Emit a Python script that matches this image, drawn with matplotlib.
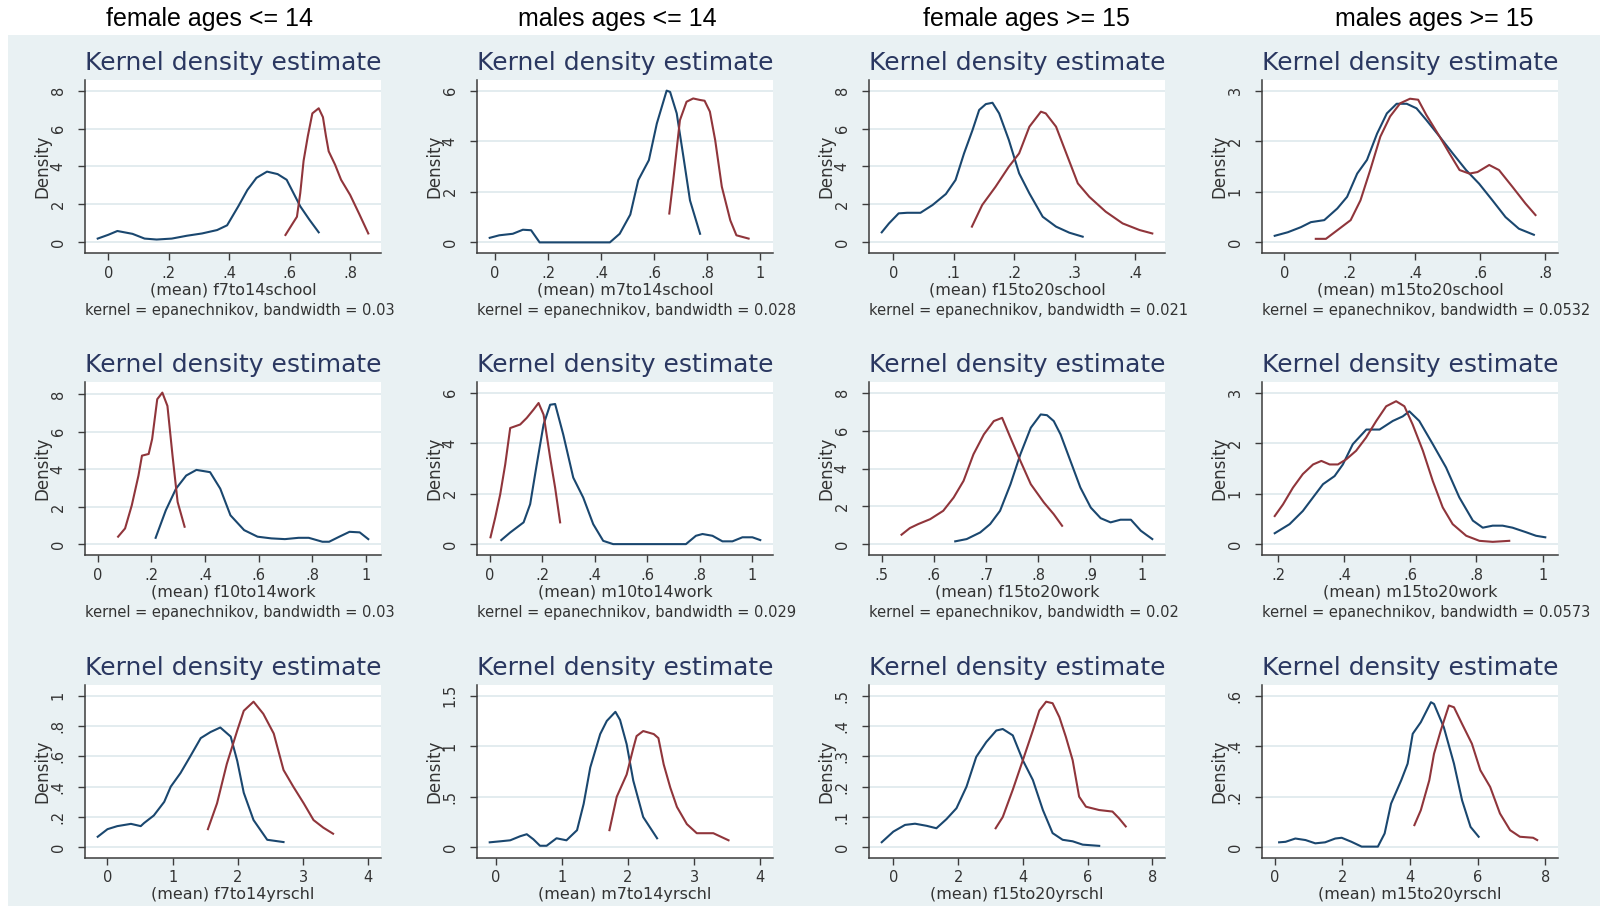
import matplotlib.pyplot as plt
from matplotlib.transforms import Bbox, TransformedBbox

# ---- data (navy = first group, maroon = second) ----
col_titles = ["female ages <= 14", "males ages <= 14", "female ages >= 15", "males ages >= 15"]

# row 1: school
f7to14school_navy_x = [-0.035, 0.0, 0.03, 0.08, 0.12, 0.16, 0.21, 0.26, 0.31, 0.36, 0.393, 0.43, 0.46, 0.49, 0.525, 0.56, 0.59, 0.635, 0.665, 0.696]
f7to14school_navy_y = [0.2, 0.4, 0.6, 0.45, 0.2, 0.15, 0.2, 0.35, 0.47, 0.65, 0.9, 1.9, 2.76, 3.4, 3.73, 3.6, 3.3, 1.9, 1.2, 0.53]
f7to14school_red_x = [0.586, 0.61, 0.624, 0.635, 0.646, 0.66, 0.675, 0.696, 0.71, 0.72, 0.729, 0.75, 0.77, 0.8, 0.83, 0.86]
f7to14school_red_y = [0.39, 1.0, 1.35, 2.6, 4.3, 5.6, 6.8, 7.07, 6.6, 5.6, 4.8, 4.1, 3.3, 2.5, 1.5, 0.47]

m7to14school_navy_x = [-0.02, 0.016, 0.067, 0.105, 0.136, 0.168, 0.433, 0.47, 0.51, 0.54, 0.58, 0.61, 0.647, 0.66, 0.685, 0.71, 0.735, 0.773]
m7to14school_navy_y = [0.18, 0.28, 0.34, 0.5, 0.48, 0.0, 0.0, 0.34, 1.1, 2.46, 3.25, 4.7, 6.0, 5.95, 5.1, 3.4, 1.66, 0.34]
m7to14school_red_x = [0.657, 0.672, 0.697, 0.722, 0.747, 0.773, 0.79, 0.81, 0.83, 0.855, 0.887, 0.91, 0.956]
m7to14school_red_y = [1.14, 2.46, 4.83, 5.56, 5.69, 5.63, 5.6, 5.17, 4.04, 2.2, 0.87, 0.28, 0.15]

f15to20school_navy_x = [-0.019, -0.007, 0.009, 0.023, 0.045, 0.065, 0.087, 0.103, 0.117, 0.131, 0.142, 0.153, 0.164, 0.175, 0.191, 0.208, 0.225, 0.247, 0.269, 0.291, 0.313]
f15to20school_navy_y = [0.53, 1.0, 1.53, 1.56, 1.56, 1.97, 2.55, 3.29, 4.69, 5.92, 6.98, 7.29, 7.36, 6.8, 5.4, 3.64, 2.58, 1.35, 0.83, 0.51, 0.3]
f15to20school_red_x = [0.13, 0.147, 0.169, 0.191, 0.208, 0.225, 0.244, 0.252, 0.269, 0.288, 0.305, 0.324, 0.351, 0.379, 0.407, 0.428]
f15to20school_red_y = [0.83, 1.97, 2.93, 3.99, 4.69, 6.1, 6.89, 6.8, 6.1, 4.52, 3.11, 2.4, 1.62, 1.0, 0.65, 0.47]

m15to20school_navy_x = [-0.03, 0.01, 0.05, 0.081, 0.122, 0.162, 0.192, 0.223, 0.253, 0.284, 0.314, 0.344, 0.375, 0.405, 0.435, 0.476, 0.516, 0.557, 0.597, 0.638, 0.678, 0.719, 0.765]
m15to20school_navy_y = [0.13, 0.2, 0.3, 0.4, 0.44, 0.67, 0.9, 1.36, 1.63, 2.15, 2.55, 2.74, 2.74, 2.65, 2.42, 2.09, 1.76, 1.43, 1.16, 0.83, 0.5, 0.27, 0.15]
m15to20school_red_x = [0.096, 0.127, 0.162, 0.203, 0.233, 0.263, 0.294, 0.324, 0.355, 0.385, 0.41, 0.435, 0.476, 0.506, 0.537, 0.567, 0.592, 0.628, 0.658, 0.699, 0.739, 0.77]
m15to20school_red_y = [0.07, 0.07, 0.24, 0.44, 0.83, 1.43, 2.09, 2.49, 2.75, 2.84, 2.82, 2.52, 2.09, 1.76, 1.43, 1.36, 1.39, 1.53, 1.43, 1.1, 0.77, 0.54]

# row 2: work
f10to14work_navy_x = [0.216, 0.254, 0.292, 0.33, 0.368, 0.419, 0.457, 0.495, 0.546, 0.596, 0.647, 0.698, 0.749, 0.787, 0.838, 0.863, 0.901, 0.939, 0.977, 1.009]
f10to14work_navy_y = [0.35, 1.82, 2.97, 3.67, 3.97, 3.85, 2.97, 1.55, 0.76, 0.41, 0.32, 0.28, 0.35, 0.35, 0.14, 0.14, 0.41, 0.67, 0.64, 0.28]
f10to14work_red_x = [0.076, 0.102, 0.127, 0.152, 0.165, 0.19, 0.203, 0.222, 0.241, 0.26, 0.279, 0.298, 0.324]
f10to14work_red_y = [0.41, 0.85, 2.08, 3.67, 4.73, 4.82, 5.62, 7.74, 8.09, 7.38, 4.73, 2.26, 0.94]

m10to14work_navy_x = [0.044, 0.078, 0.129, 0.154, 0.179, 0.205, 0.23, 0.249, 0.28, 0.318, 0.356, 0.394, 0.432, 0.47, 0.747, 0.785, 0.81, 0.848, 0.886, 0.924, 0.962, 1.0, 1.03]
m10to14work_navy_y = [0.17, 0.47, 0.87, 1.59, 3.16, 4.74, 5.52, 5.55, 4.34, 2.64, 1.85, 0.8, 0.14, 0.01, 0.01, 0.34, 0.41, 0.34, 0.12, 0.12, 0.28, 0.28, 0.17]
m10to14work_red_x = [0.003, 0.021, 0.04, 0.059, 0.078, 0.097, 0.116, 0.141, 0.167, 0.186, 0.205, 0.23, 0.249, 0.268]
m10to14work_red_y = [0.28, 1.06, 1.98, 3.16, 4.6, 4.67, 4.74, 5.0, 5.33, 5.59, 5.13, 3.43, 2.24, 0.87]

f15to20work_navy_x = [0.641, 0.663, 0.689, 0.708, 0.727, 0.747, 0.766, 0.786, 0.805, 0.817, 0.83, 0.843, 0.862, 0.881, 0.901, 0.92, 0.939, 0.958, 0.978, 0.997, 1.019]
f15to20work_navy_y = [0.16, 0.28, 0.63, 1.07, 1.77, 3.17, 4.75, 6.15, 6.85, 6.81, 6.5, 5.8, 4.4, 3.0, 1.94, 1.38, 1.16, 1.3, 1.3, 0.72, 0.28]
f15to20work_red_x = [0.538, 0.554, 0.57, 0.593, 0.618, 0.638, 0.657, 0.676, 0.696, 0.715, 0.731, 0.747, 0.766, 0.786, 0.811, 0.83, 0.846]
f15to20work_red_y = [0.51, 0.86, 1.07, 1.33, 1.77, 2.47, 3.35, 4.75, 5.8, 6.5, 6.67, 5.62, 4.4, 3.17, 2.21, 1.59, 0.98]

m15to20work_navy_x = [0.19, 0.235, 0.275, 0.306, 0.336, 0.371, 0.396, 0.426, 0.467, 0.507, 0.547, 0.577, 0.597, 0.627, 0.668, 0.708, 0.748, 0.789, 0.819, 0.849, 0.879, 0.909, 0.95, 0.98, 1.008]
m15to20work_navy_y = [0.22, 0.4, 0.66, 0.93, 1.19, 1.35, 1.58, 1.98, 2.27, 2.27, 2.44, 2.53, 2.63, 2.44, 1.98, 1.52, 0.93, 0.47, 0.33, 0.37, 0.37, 0.33, 0.24, 0.17, 0.14]
m15to20work_red_x = [0.19, 0.215, 0.245, 0.275, 0.306, 0.331, 0.356, 0.381, 0.406, 0.436, 0.466, 0.497, 0.527, 0.557, 0.582, 0.607, 0.638, 0.668, 0.698, 0.728, 0.769, 0.809, 0.849, 0.899]
m15to20work_red_y = [0.56, 0.79, 1.12, 1.39, 1.58, 1.65, 1.58, 1.58, 1.68, 1.85, 2.11, 2.44, 2.73, 2.83, 2.73, 2.37, 1.85, 1.25, 0.73, 0.4, 0.17, 0.07, 0.05, 0.07]

# row 3: years of schooling
f7to14yrschl_navy_x = [-0.15, 0.0, 0.15, 0.36, 0.51, 0.56, 0.71, 0.87, 0.97, 1.12, 1.27, 1.43, 1.58, 1.73, 1.89, 1.99, 2.09, 2.24, 2.45, 2.7]
f7to14yrschl_navy_y = [0.07, 0.12, 0.14, 0.155, 0.14, 0.16, 0.21, 0.3, 0.4, 0.49, 0.6, 0.72, 0.76, 0.79, 0.73, 0.57, 0.36, 0.18, 0.05, 0.035]
f7to14yrschl_red_x = [1.54, 1.68, 1.83, 1.99, 2.09, 2.24, 2.39, 2.55, 2.7, 2.85, 3.01, 3.16, 3.31, 3.46]
f7to14yrschl_red_y = [0.12, 0.29, 0.55, 0.77, 0.9, 0.96, 0.88, 0.75, 0.51, 0.4, 0.29, 0.18, 0.13, 0.09]

m7to14yrschl_navy_x = [-0.09, 0.07, 0.22, 0.37, 0.47, 0.57, 0.67, 0.77, 0.92, 1.07, 1.23, 1.33, 1.43, 1.58, 1.68, 1.81, 1.88, 1.98, 2.08, 2.23, 2.44]
m7to14yrschl_navy_y = [0.05, 0.06, 0.07, 0.11, 0.13, 0.08, 0.016, 0.016, 0.09, 0.07, 0.17, 0.43, 0.79, 1.12, 1.25, 1.34, 1.26, 1.02, 0.66, 0.3, 0.09]
m7to14yrschl_red_x = [1.72, 1.83, 1.98, 2.08, 2.13, 2.23, 2.39, 2.46, 2.54, 2.64, 2.74, 2.89, 3.04, 3.29, 3.52]
m7to14yrschl_red_y = [0.17, 0.5, 0.72, 0.98, 1.1, 1.15, 1.12, 1.08, 0.82, 0.59, 0.4, 0.23, 0.14, 0.14, 0.07]

f15to20yrschl_navy_x = [-0.36, 0.0, 0.36, 0.67, 1.03, 1.33, 1.64, 1.95, 2.26, 2.56, 2.87, 3.18, 3.38, 3.69, 4.0, 4.31, 4.62, 4.92, 5.23, 5.54, 5.85, 6.36]
f15to20yrschl_navy_y = [0.017, 0.052, 0.074, 0.078, 0.071, 0.063, 0.093, 0.129, 0.2, 0.298, 0.347, 0.385, 0.39, 0.369, 0.287, 0.222, 0.123, 0.047, 0.025, 0.02, 0.009, 0.005]
f15to20yrschl_red_x = [3.16, 3.38, 3.69, 4.0, 4.31, 4.51, 4.72, 4.92, 5.13, 5.33, 5.54, 5.74, 5.95, 6.36, 6.77, 6.97, 7.18]
f15to20yrschl_red_y = [0.063, 0.1, 0.19, 0.287, 0.385, 0.451, 0.48, 0.475, 0.429, 0.364, 0.287, 0.167, 0.134, 0.123, 0.118, 0.096, 0.069]

m15to20yrschl_navy_x = [0.13, 0.32, 0.61, 0.91, 1.2, 1.49, 1.79, 1.98, 2.27, 2.57, 3.05, 3.25, 3.44, 3.74, 3.93, 4.08, 4.32, 4.62, 4.71, 5.0, 5.3, 5.54, 5.79, 6.03]
m15to20yrschl_navy_y = [0.02, 0.022, 0.035, 0.029, 0.016, 0.02, 0.035, 0.038, 0.022, 0.003, 0.003, 0.055, 0.173, 0.265, 0.331, 0.449, 0.495, 0.574, 0.567, 0.475, 0.331, 0.186, 0.081, 0.042]
m15to20yrschl_red_x = [4.13, 4.32, 4.57, 4.71, 4.91, 5.15, 5.3, 5.54, 5.83, 6.08, 6.37, 6.66, 6.96, 7.25, 7.64, 7.76]
m15to20yrschl_red_y = [0.088, 0.147, 0.265, 0.37, 0.462, 0.561, 0.554, 0.488, 0.41, 0.305, 0.239, 0.134, 0.068, 0.042, 0.038, 0.029]

# tick sets (Stata style labels)
ticks_0_8 = ([0, 2, 4, 6, 8], ["0", "2", "4", "6", "8"])
ticks_0_6 = ([0, 2, 4, 6], ["0", "2", "4", "6"])
ticks_0_3 = ([0, 1, 2, 3], ["0", "1", "2", "3"])
ticks_0_1 = ([0, 0.2, 0.4, 0.6, 0.8, 1], ["0", ".2", ".4", ".6", ".8", "1"])
ticks_0_08 = ([0, 0.2, 0.4, 0.6, 0.8], ["0", ".2", ".4", ".6", ".8"])
ticks_0_04 = ([0, 0.1, 0.2, 0.3, 0.4], ["0", ".1", ".2", ".3", ".4"])
ticks_05_1 = ([0.5, 0.6, 0.7, 0.8, 0.9, 1], [".5", ".6", ".7", ".8", ".9", "1"])
ticks_02_1 = ([0.2, 0.4, 0.6, 0.8, 1], [".2", ".4", ".6", ".8", "1"])
ticks_yrs4 = ([0, 1, 2, 3, 4], ["0", "1", "2", "3", "4"])
ticks_yrs8 = ([0, 2, 4, 6, 8], ["0", "2", "4", "6", "8"])
ticks_0_15 = ([0, 0.5, 1, 1.5], ["0", ".5", "1", "1.5"])
ticks_0_05 = ([0, 0.1, 0.2, 0.3, 0.4, 0.5], ["0", ".1", ".2", ".3", ".4", ".5"])
ticks_0_06 = ([0, 0.2, 0.4, 0.6], ["0", ".2", ".4", ".6"])

notes = [
    ["kernel = epanechnikov, bandwidth = 0.03", "kernel = epanechnikov, bandwidth = 0.028",
     "kernel = epanechnikov, bandwidth = 0.021", "kernel = epanechnikov, bandwidth = 0.0532"],
    ["kernel = epanechnikov, bandwidth = 0.03", "kernel = epanechnikov, bandwidth = 0.029",
     "kernel = epanechnikov, bandwidth = 0.02", "kernel = epanechnikov, bandwidth = 0.0573"],
    None,
]

panels = [
    [("f7to14school", f7to14school_navy_x, f7to14school_navy_y, f7to14school_red_x, f7to14school_red_y, ticks_0_08, ticks_0_8),
     ("m7to14school", m7to14school_navy_x, m7to14school_navy_y, m7to14school_red_x, m7to14school_red_y, ticks_0_1, ticks_0_6),
     ("f15to20school", f15to20school_navy_x, f15to20school_navy_y, f15to20school_red_x, f15to20school_red_y, ticks_0_04, ticks_0_8),
     ("m15to20school", m15to20school_navy_x, m15to20school_navy_y, m15to20school_red_x, m15to20school_red_y, ticks_0_08, ticks_0_3)],
    [("f10to14work", f10to14work_navy_x, f10to14work_navy_y, f10to14work_red_x, f10to14work_red_y, ticks_0_1, ticks_0_8),
     ("m10to14work", m10to14work_navy_x, m10to14work_navy_y, m10to14work_red_x, m10to14work_red_y, ticks_0_1, ticks_0_6),
     ("f15to20work", f15to20work_navy_x, f15to20work_navy_y, f15to20work_red_x, f15to20work_red_y, ticks_05_1, ticks_0_8),
     ("m15to20work", m15to20work_navy_x, m15to20work_navy_y, m15to20work_red_x, m15to20work_red_y, ticks_02_1, ticks_0_3)],
    [("f7to14yrschl", f7to14yrschl_navy_x, f7to14yrschl_navy_y, f7to14yrschl_red_x, f7to14yrschl_red_y, ticks_yrs4, ticks_0_1),
     ("m7to14yrschl", m7to14yrschl_navy_x, m7to14yrschl_navy_y, m7to14yrschl_red_x, m7to14yrschl_red_y, ticks_yrs4, ticks_0_15),
     ("f15to20yrschl", f15to20yrschl_navy_x, f15to20yrschl_navy_y, f15to20yrschl_red_x, f15to20yrschl_red_y, ticks_yrs8, ticks_0_05),
     ("m15to20yrschl", m15to20yrschl_navy_x, m15to20yrschl_navy_y, m15to20yrschl_red_x, m15to20yrschl_red_y, ticks_yrs8, ticks_0_06)],
]

# ---- styling ----
BG = "#E9F1F3"
GRID = "#E3ECEF"
NAVY = "#1A476F"
MAROON = "#90353B"
TITLE = "#2A3760"
AXIS = "#3C3C3C"
TXT = "#333333"

W, H = 1600, 906
col_left = [85, 477, 869, 1262]
col_clip = [400, 796, 1189, 1600]
header_x = [210, 617, 1026, 1434]
row_bottom = [253, 555, 858]
ax_w, ax_h = 296, 173

plt.rcParams["font.family"] = ["DejaVu Sans"]

fig = plt.figure(figsize=(W / 100, H / 100), dpi=100)
fig.patch.set_facecolor("white")
fig.add_artist(plt.Rectangle((8 / W, 0), 1 - 8 / W, 1 - 35 / H, transform=fig.transFigure,
                             facecolor=BG, edgecolor="none", zorder=0))

for j, title in enumerate(col_titles):
    fig.text(header_x[j] / W, 1 - 19 / H, title, ha="center", va="center",
             fontsize=18, family="Liberation Sans", color="black")

for i, row in enumerate(panels):
    for j, (name, nx, ny, rx, ry, xt, yt) in enumerate(row):
        l, b = col_left[j], row_bottom[i]
        ax = fig.add_axes([l / W, 1 - b / H, ax_w / W, ax_h / H])
        ax.set_facecolor("white")
        ax.plot(nx, ny, color=NAVY, lw=1.5, zorder=3)
        ax.plot(rx, ry, color=MAROON, lw=1.5, zorder=3)

        # Stata-like ranges: cover data and ticks, then add plot-region margins
        lo = min(min(nx), min(rx), xt[0][0])
        hi = max(max(nx), max(rx), xt[0][-1])
        pad = 0.047 * (hi - lo)
        ax.set_xlim(lo - pad, hi + pad)
        ytop = max(max(ny), max(ry), yt[0][-1])
        ax.set_ylim(-0.07 * ytop, ytop * 1.07)

        ax.set_xticks(xt[0])
        ax.set_xticklabels(xt[1])
        ax.set_yticks(yt[0])
        ax.set_yticklabels(yt[1], rotation=90, va="center")
        ax.grid(axis="y", color=GRID, lw=1.4)
        ax.set_axisbelow(True)
        for s in ("top", "right"):
            ax.spines[s].set_visible(False)
        for s in ("left", "bottom"):
            ax.spines[s].set_color(AXIS)
            ax.spines[s].set_linewidth(1.1)
        ax.tick_params(axis="both", length=5, width=1.0, color=AXIS, labelsize=10.5, labelcolor=TXT)
        ax.tick_params(axis="y", pad=9)
        ax.tick_params(axis="x", pad=4)

        ax.text(0.5, 1.1, "Kernel density estimate", transform=ax.transAxes,
                ha="center", va="center", fontsize=18, color=TITLE)
        ax.set_xlabel("(mean) " + name, fontsize=11.5, color=TXT, va="center")
        ax.xaxis.set_label_coords(0.5, -37 / ax_h)
        ax.set_ylabel("Density", fontsize=12, color=TXT, va="center")
        ax.yaxis.set_label_coords(-43 / ax_w, 0.5)

        if notes[i] is not None:
            t = fig.text(l / W, 1 - (b + 58) / H, notes[i][j], ha="left", va="center",
                         fontsize=10.5, color=TXT)
            t.set_clip_box(TransformedBbox(Bbox([[0, 0], [col_clip[j] / W, 1]]), fig.transFigure))
            t.set_clip_on(True)

fig.savefig("out.png", dpi=100, facecolor=fig.get_facecolor())
